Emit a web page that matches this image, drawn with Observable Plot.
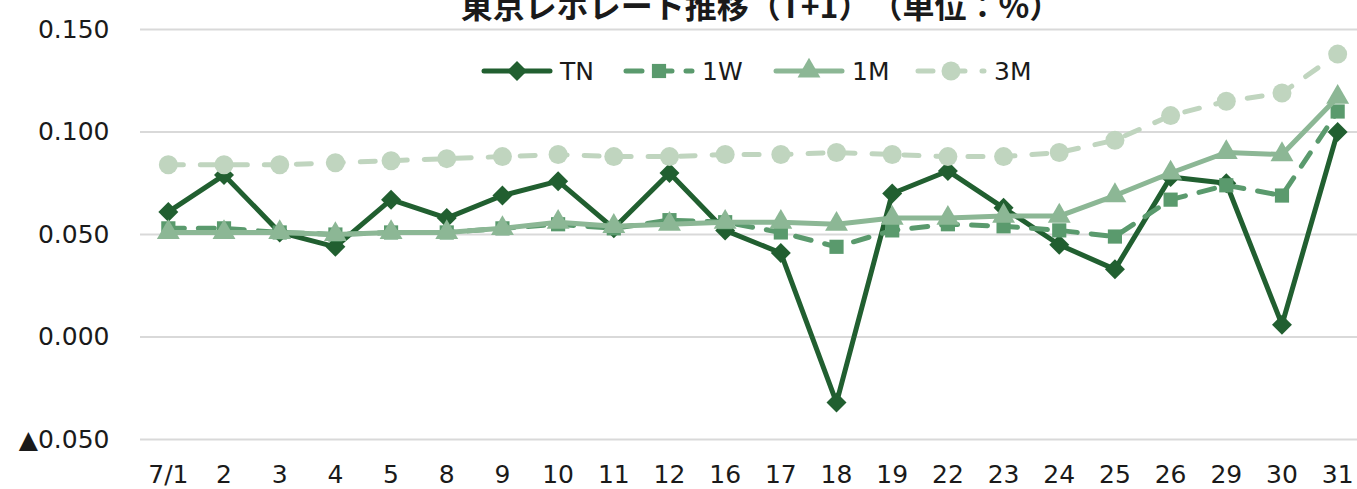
<!DOCTYPE html>
<html>
<head>
<meta charset="utf-8">
<script src="https://cdn.jsdelivr.net/npm/d3@7"></script>
<script src="https://cdn.jsdelivr.net/npm/@observablehq/plot@0.6"></script>
<style>
  html, body { margin: 0; padding: 0; background: #fff; overflow: hidden; }
  #wrap { position: relative; width: 1357px; height: 489px; overflow: hidden; }
  #chart svg { max-width: none !important; }
  #title { position: absolute; left: 10px; width: 1502px; top: -12px; text-align: center; line-height: 1;
    font-family: "Noto Sans CJK JP", sans-serif; font-weight: 700; font-size: 32px; color: #1a1a1a; white-space: nowrap;
    text-spacing-trim: space-all; font-feature-settings: normal; }
  .leg { position: absolute; top: 56px; height: 30px; display: flex; align-items: center;
    font-family: "DejaVu Sans", sans-serif; font-size: 25px; color: #1a1a1a; }
  .leg svg { margin-right: 7px; }
</style>
</head>
<body>
<div id="wrap">
  <div id="chart"></div>
  <div id="title">東京レポレート推移（T+1）（単位：%）</div>
</div>
<script>
const dates = ["7/1","2","3","4","5","8","9","10","11","12","16","17","18","19","22","23","24","25","26","29","30","31"];
const seriesNames = ["TN","1W","1M","3M"];
const tnValues = [0.061,0.079,0.051,0.044,0.067,0.058,0.069,0.076,0.053,0.080,0.052,0.041,-0.032,0.070,0.081,0.063,0.045,0.033,0.078,0.075,0.006,0.100];
const w1Values = [0.053,0.053,0.051,0.050,0.051,0.051,0.053,0.055,0.053,0.057,0.056,0.051,0.044,0.052,0.055,0.054,0.052,0.049,0.067,0.074,0.069,0.110];
const m1Values = [0.051,0.051,0.051,0.050,0.051,0.051,0.053,0.056,0.054,0.055,0.056,0.056,0.055,0.058,0.058,0.059,0.059,0.069,0.080,0.090,0.089,0.117];
const m3Values = [0.084,0.084,0.084,0.085,0.086,0.087,0.088,0.089,0.088,0.088,0.089,0.089,0.090,0.089,0.088,0.088,0.090,0.096,0.108,0.115,0.119,0.138];
const yTicks = [-0.05, 0, 0.05, 0.10, 0.15];

const styles = {
  "TN": {color: "#215f30", symbol: "diamond2", r: 9, dash: null},
  "1W": {color: "#5a9a6d", symbol: "square", r: 8, dash: "16,14"},
  "1M": {color: "#8cb795", symbol: "triangle", r: 8.5, dash: null},
  "3M": {color: "#c0d5bf", symbol: "circle", r: 9.5, dash: "15,17"}
};
const valuesBySeries = {"TN": tnValues, "1W": w1Values, "1M": m1Values, "3M": m3Values};

const fmt = d3.format(".3f");
const marks = [Plot.ruleY(yTicks, {stroke: "#d9d9d9", strokeWidth: 2})];
for (const name of seriesNames) {
  const s = styles[name];
  const data = dates.map((d, i) => ({date: d, value: valuesBySeries[name][i]}));
  marks.push(Plot.line(data, {x: "date", y: "value", stroke: s.color, strokeWidth: 5,
    strokeDasharray: s.dash, strokeLinecap: "round", strokeLinejoin: "round"}));
  marks.push(Plot.dot(data, {x: "date", y: "value", fill: s.color, symbol: s.symbol, r: s.r}));
}

const chart = Plot.plot({
  width: 1365, height: 489,
  marginLeft: 140, marginRight: 0, marginTop: 29, marginBottom: 50,
  style: {fontFamily: "DejaVu Sans, sans-serif", fontSize: "25px", color: "#1a1a1a", background: "transparent", overflow: "visible", maxWidth: "none"},
  x: {type: "point", domain: dates, padding: 0.5, round: false, label: null, tickSize: 0, tickPadding: 26},
  y: {domain: [-0.05, 0.15], ticks: yTicks, label: null, tickSize: 0, tickPadding: 31,
      tickFormat: d => d < 0 ? "▲" + fmt(-d) : fmt(d)},
  marks
});
chart.style.maxWidth = "none";
document.getElementById("chart").appendChild(chart);

// legend
const legendLefts = {"TN": 481, "1W": 623, "1M": 773, "3M": 915};
const symPaths = {
  "diamond2": d3.symbol(d3.symbolDiamond2, Math.PI * 81)(),
  "square": d3.symbol(d3.symbolSquare, Math.PI * 64)(),
  "triangle": d3.symbol(d3.symbolTriangle, Math.PI * 72)(),
  "circle": d3.symbol(d3.symbolCircle, Math.PI * 90)()
};
const wrap = document.getElementById("wrap");
for (const name of seriesNames) {
  const s = styles[name];
  const div = document.createElement("div");
  div.className = "leg";
  div.style.left = legendLefts[name] + "px";
  div.innerHTML = `<svg width="72" height="30" viewBox="0 0 72 30">
    <line x1="3" y1="15" x2="69" y2="15" stroke="${s.color}" stroke-width="5" stroke-linecap="round" ${s.dash ? `stroke-dasharray="${s.dash}"` : ""}/>
    <path transform="translate(36,15)" d="${symPaths[s.symbol]}" fill="${s.color}"/>
  </svg><span>${name}</span>`;
  wrap.appendChild(div);
}
</script>
</body>
</html>
